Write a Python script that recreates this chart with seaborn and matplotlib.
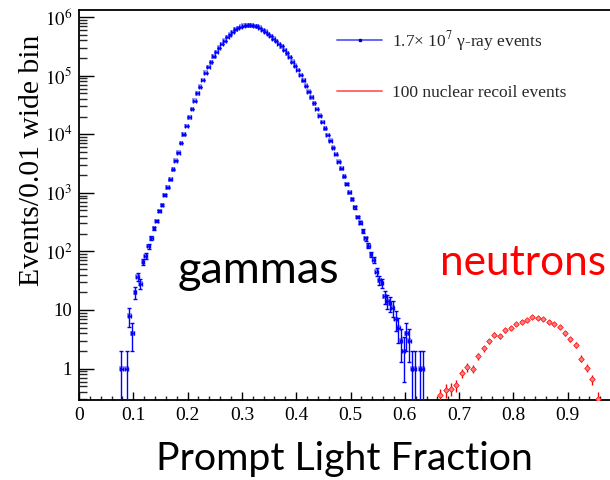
import numpy as np
import pandas as pd
import matplotlib
matplotlib.use("Agg")
import matplotlib.pyplot as plt
import seaborn as sns
from matplotlib.lines import Line2D
from matplotlib.ticker import FixedLocator, FixedFormatter, MultipleLocator, NullFormatter

# ---------------- data ----------------
# gamma histogram: bins of width 0.005, first bin centre 0.078
gamma_first_center = 0.078
gamma_bin_width = 0.005
gamma_counts = [
    1, 0, 1, 8, 4, 20, 37, 28, 66, 83,
    123, 170, 247, 330, 490, 620, 915, 1240, 1700, 2520,
    3550, 4870, 7100, 10000, 13800, 19500, 27000, 37500, 50000, 65000,
    85000, 113000, 140000, 170000, 213000, 252000, 302000, 349000, 398000, 455000,
    505000, 560000, 615000, 650000, 690000, 712000, 720000, 722000, 720000, 708000,
    692000, 660000, 603000, 562000, 513000, 479000, 427000, 389000, 347000, 316000,
    275000, 240000, 209000, 174000, 148000, 126000, 102000, 83000, 67600, 53700,
    42700, 33900, 26900, 20900, 16200, 12600, 9770, 7760, 5890, 4570,
    3390, 2630, 1900, 1410, 1020, 776, 562, 389, 309, 224,
    166, 126, 89, 72, 45, 32, 29, 17, 14, 13,
    11, 7, 5, 3, 2, 4, 3, 1, 1, 0,
    1, 1,
]

# nuclear recoil histogram: bins of width 0.01, first bin centre 0.665
nr_first_center = 0.665
nr_bin_width = 0.01
nr_values = [
    0.35, 0.43, 0.45, 0.52, 0.84, 1.06, 1.00, 1.62, 2.20, 2.96,
    3.80, 3.57, 4.46, 4.94, 5.65, 6.20, 6.70, 7.60, 7.20, 6.97,
    6.27, 5.73, 5.20, 3.97, 3.13, 2.53, 1.48, 1.04, 0.65, 0.30,
]

x_ticks = [0, 0.1, 0.2, 0.3, 0.4, 0.5, 0.6, 0.7, 0.8, 0.9]
x_tick_labels = ["0", "0.1", "0.2", "0.3", "0.4", "0.5", "0.6", "0.7", "0.8", "0.9"]
y_ticks = [1, 10, 100, 1e3, 1e4, 1e5, 1e6]
y_tick_labels = ["1", "10", "$10^{2}$", "$10^{3}$", "$10^{4}$", "$10^{5}$", "$10^{6}$"]

legend_labels = ["1.7\u00d7 10$^{7}$ \u03b3-ray events", "100 nuclear recoil events"]

# ---------------- tables ----------------
g = pd.DataFrame({"count": gamma_counts})
g["x"] = gamma_first_center + gamma_bin_width * np.arange(len(g))
g = g[g["count"] > 0].reset_index(drop=True)
g_err = np.sqrt(g["count"].to_numpy(float))
g_lo = np.minimum(g_err, g["count"].to_numpy(float) - 1e-6)

n = pd.DataFrame({"val": nr_values})
n["x"] = nr_first_center + nr_bin_width * np.arange(len(n))
n_err = 0.17 * np.sqrt(n["val"].to_numpy(float))

# ---------------- style ----------------
sns.set_theme(style="ticks")
plt.rcParams["font.family"] = ["Liberation Serif", "DejaVu Serif"]
plt.rcParams["mathtext.fontset"] = "stix"

W, H = 610, 480
fig = plt.figure(figsize=(W / 100, H / 100), dpi=100)
ax_left, ax_bottom, ax_top = 79, 400, 9.5
ax_right = 79 + 543  # x = 1.0 (cropped by the figure edge)
ax = fig.add_axes([ax_left / W, (H - ax_bottom) / H,
                   (ax_right - ax_left) / W, (ax_bottom - ax_top) / H])

ax.set_yscale("log")
ax.set_xlim(0, 1.0)
ax.set_ylim(0.29, 1.35e6)

# gamma points
ax.errorbar(g["x"], g["count"], xerr=gamma_bin_width / 2, yerr=[g_lo, g_err],
            fmt="none", ecolor="#0000ff", elinewidth=1.0, capsize=1.5, capthick=1.0,
            zorder=3)
sns.scatterplot(data=g, x="x", y="count", marker="s", s=11, color="#7f7fff",
                alpha=0.75, edgecolor="none", ax=ax, zorder=2, legend=False)

# nuclear recoil points
ax.errorbar(n["x"], n["val"], xerr=0.0025, yerr=n_err,
            fmt="none", ecolor="#ff0000", elinewidth=1.0, capsize=0, zorder=3)
sns.scatterplot(data=n, x="x", y="val", marker="D", s=8, color="#ff8080",
                edgecolor="#ff0000", linewidth=0.5, ax=ax, zorder=4, legend=False)

# axes styling
ax.spines["right"].set_visible(False)
for side in ["left", "bottom", "top"]:
    ax.spines[side].set_linewidth(1.3)
    ax.spines[side].set_color("black")

ax.xaxis.set_major_locator(FixedLocator(x_ticks))
ax.xaxis.set_major_formatter(FixedFormatter(x_tick_labels))
ax.xaxis.set_minor_locator(MultipleLocator(0.02))
ax.yaxis.set_major_locator(FixedLocator(y_ticks))
ax.yaxis.set_major_formatter(FixedFormatter(y_tick_labels))
minor_y = [m * 10.0 ** e for e in range(-1, 7) for m in range(2, 10)]
ax.yaxis.set_minor_locator(FixedLocator(minor_y))
ax.yaxis.set_minor_formatter(NullFormatter())

ax.tick_params(axis="x", which="major", direction="in", length=6, width=1.0,
               labelsize=14, pad=5, colors="black", top=False)
ax.tick_params(axis="x", which="minor", direction="in", length=3, width=1.0, top=False)
ax.tick_params(axis="y", which="major", direction="in", length=11, width=1.0,
               labelsize=13.5, pad=5, colors="black", right=False)
ax.tick_params(axis="y", which="minor", direction="in", length=6, width=1.0, right=False)
ax.set_xlabel("")
ax.set_ylabel("")
ax.grid(False)

# legend
handles = [Line2D([], [], color="#5a5aff", lw=1.3, marker="s", markersize=1.5,
                  markerfacecolor="#0000aa", markeredgecolor="#0000aa"),
           Line2D([], [], color="#ff6060", lw=1.3)]
ax.legend(handles, legend_labels, frameon=False, fontsize=12.5,
          loc="upper left", bbox_to_anchor=(337 / W, 1 - 29 / H),
          bbox_transform=fig.transFigure, borderpad=0, borderaxespad=0,
          handlelength=2.6, handletextpad=0.55, labelspacing=1.85)

# annotations
fig.text(178 / W, 1 - 283 / H, "gammas", family=["Lato", "DejaVu Sans"],
         fontsize=32.5, color="black", ha="left", va="baseline")
fig.text(440 / W, 1 - 275 / H, "neutrons", family=["Lato", "DejaVu Sans"],
         fontsize=30.5, color="#ff0000", ha="left", va="baseline")
fig.text(344 / W, 1 - 470 / H, "Prompt Light Fraction", family=["Lato", "DejaVu Sans"],
         fontsize=28.3, color="black", ha="center", va="baseline")
fig.text(32 / W, 1 - 160 / H, "Events/0.01 wide bin", fontsize=21.3, rotation=90,
         ha="center", va="center", color="black")

fig.savefig("out.png", dpi=100)
